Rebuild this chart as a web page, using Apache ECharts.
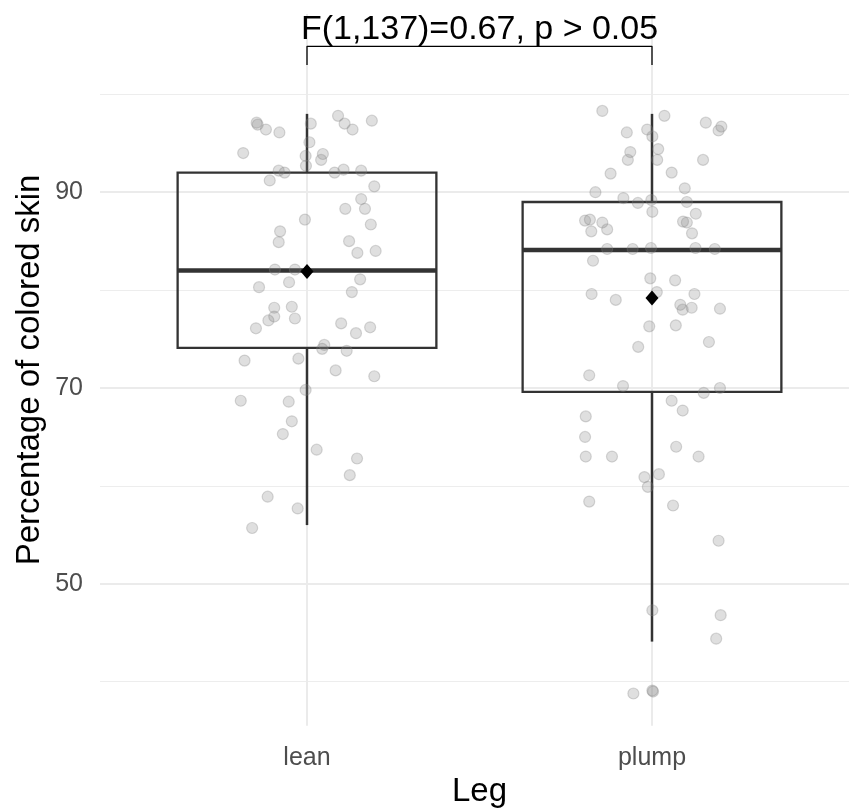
<!DOCTYPE html>
<html>
<head>
<meta charset="utf-8">
<script src="https://cdn.jsdelivr.net/npm/echarts@6/dist/echarts.min.js"></script>
<style>
html, body { margin: 0; padding: 0; background: #ffffff; }
#grafico { width: 849px; height: 811px; }
</style>
</head>
<body>
<div id="grafico"></div>
<script>
// Dados
const categories = ['lean', 'plump'];
const yTickLabels = [50, 70, 90];
const yMinorTicks = [40, 60, 80, 100];

// box statistics per group: lower whisker, Q1, median, Q3, upper whisker
const boxLow = [56.0, 44.1];
const boxQ1 = [74.1, 69.6];
const boxMedian = [82.0, 84.1];
const boxQ3 = [92.0, 89.0];
const boxHigh = [98.0, 98.0];
const groupMeans = [81.9, 79.2];

// jittered observations (x = group position + jitter)
const leanX = [0.854, 0.857, 0.881, 0.920, 0.815, 1.011, 1.090, 1.109, 1.132, 1.188,
    1.007, 0.996, 1.046, 1.041, 0.997, 0.918, 0.935, 0.892, 1.080, 1.106,
    1.157, 1.195, 1.157, 1.111, 1.168, 1.185, 0.994, 0.922, 0.918, 1.122,
    1.146, 1.199, 0.907, 0.965, 0.861, 0.948, 1.154, 1.130, 0.905, 0.956,
    0.905, 0.888, 0.965, 0.852, 1.099, 1.142, 1.183, 1.050, 1.044, 1.115,
    0.819, 0.975, 1.083, 1.195, 0.996, 0.808, 0.947, 0.956, 0.930, 1.028,
    1.145, 1.124, 0.886, 0.973, 0.841];
const leanY = [97.1, 96.9, 96.4, 96.1, 94.0, 97.0, 97.8, 97.0, 96.4, 97.3,
    95.1, 93.7, 93.9, 93.3, 92.7, 92.2, 92.0, 91.2, 92.0, 92.3,
    92.2, 90.6, 89.3, 88.3, 88.3, 86.7, 87.2, 86.0, 84.9, 85.0,
    83.8, 84.0, 82.1, 82.1, 80.3, 80.8, 81.1, 79.8, 78.2, 78.3,
    77.3, 76.9, 77.1, 76.1, 76.6, 75.6, 76.2, 74.4, 74.0, 73.8,
    72.8, 73.0, 71.8, 71.2, 69.8, 68.7, 68.6, 66.6, 65.3, 63.7,
    62.8, 61.1, 58.9, 57.7, 55.7];
const plumpX = [1.856, 2.036, 2.156, 2.201, 2.193, 1.927, 1.986, 2.001, 1.937, 1.930,
    2.018, 2.015, 2.148, 1.880, 2.057, 1.836, 1.917, 1.959, 1.998, 2.095,
    2.101, 2.001, 2.127, 1.806, 1.820, 1.856, 1.824, 1.870, 2.090, 2.101,
    2.116, 1.870, 1.944, 1.997, 2.126, 2.182, 1.829, 1.995, 2.067, 1.825,
    1.895, 2.014, 2.123, 2.082, 2.089, 2.115, 2.197, 1.992, 2.069, 2.165,
    1.960, 1.818, 1.916, 2.150, 2.197, 2.057, 2.089, 1.808, 1.806, 2.070,
    1.808, 1.884, 2.135, 1.978, 2.020, 1.988, 1.818, 2.061, 2.193, 2.001,
    2.199, 2.186, 1.946, 2.001, 2.003];
const plumpY = [98.3, 97.8, 97.1, 96.7, 96.3, 96.1, 96.4, 95.7, 94.1, 93.3,
    94.4, 93.3, 93.3, 91.9, 92.0, 90.0, 89.4, 88.9, 89.2, 90.4,
    89.0, 88.0, 87.8, 87.1, 87.2, 86.9, 86.0, 86.2, 87.0, 86.9,
    85.8, 84.2, 84.2, 84.3, 84.3, 84.2, 83.0, 81.2, 81.0, 79.6,
    79.0, 79.8, 79.6, 78.5, 78.0, 78.2, 78.1, 76.3, 76.4, 74.7,
    74.2, 71.3, 70.2, 69.5, 70.0, 68.7, 67.7, 67.1, 65.0, 64.0,
    63.0, 63.0, 63.0, 60.9, 61.2, 59.9, 58.4, 58.0, 54.4, 47.3,
    46.8, 44.4, 38.8, 39.1, 39.0];

// significance bracket
const bracketX = [1, 1, 2, 2];
const bracketY = [103.0, 104.9, 104.9, 103.0];
const annotationText = 'F(1,137)=0.67, p > 0.05';

const boxWidth = 0.75;
const fonte = "'Liberation Sans', Arial, sans-serif";

var chartDom = document.getElementById('grafico');
var myChart = echarts.init(chartDom, null, { renderer: 'canvas' });

function renderBox(params, api) {
    var x = api.value(0);
    var pLow = api.coord([x, api.value(1)]);
    var pQ1 = api.coord([x, api.value(2)]);
    var pMed = api.coord([x, api.value(3)]);
    var pQ3 = api.coord([x, api.value(4)]);
    var pHigh = api.coord([x, api.value(5)]);
    var half = api.size([boxWidth, 0])[0] / 2;
    var linha = { stroke: '#333333', lineWidth: 2.5, fill: null };
    return {
        type: 'group',
        children: [
            { type: 'line', shape: { x1: pLow[0], y1: pLow[1], x2: pQ1[0], y2: pQ1[1] }, style: linha },
            { type: 'line', shape: { x1: pQ3[0], y1: pQ3[1], x2: pHigh[0], y2: pHigh[1] }, style: linha },
            {
                type: 'rect',
                shape: { x: pQ1[0] - half, y: pQ3[1], width: half * 2, height: pQ1[1] - pQ3[1] },
                style: { fill: null, stroke: '#333333', lineWidth: 2.3 }
            },
            {
                type: 'line',
                shape: { x1: pMed[0] - half, y1: pMed[1], x2: pMed[0] + half, y2: pMed[1] },
                style: { stroke: '#333333', lineWidth: 4.6 }
            }
        ]
    };
}

var pointStyle = {
    color: 'rgba(128,128,128,0.25)',
    borderColor: 'rgba(128,128,128,0.3)',
    borderWidth: 1.2,
    opacity: 1
};

var option = {
    animation: false,
    backgroundColor: '#ffffff',
    textStyle: { fontFamily: fonte },
    grid: {
        left: 100,
        top: 14,
        width: 759,
        height: 711.8,
        containLabel: false,
        outerBoundsMode: 'none'
    },
    xAxis: {
        type: 'value',
        min: 0.4,
        max: 2.6,
        name: 'Leg',
        nameLocation: 'middle',
        nameGap: 50,
        nameMoveOverlap: false,
        nameTextStyle: { fontSize: 33, color: '#000000', fontFamily: fonte },
        axisLine: { show: false },
        axisTick: { show: false, customValues: [1, 2] },
        axisLabel: {
            customValues: [1, 2],
            formatter: function (v) { return categories[Math.round(v) - 1]; },
            fontSize: 25,
            color: '#4d4d4d',
            margin: 20,
            fontFamily: fonte
        },
        splitLine: { show: true, lineStyle: { color: '#ebebeb', width: 2 } }
    },
    yAxis: [
        {
            type: 'value',
            min: 35.5,
            max: 108.2,
            name: 'Percentage of colored skin',
            nameLocation: 'middle',
            nameGap: 54,
            nameMoveOverlap: false,
            nameTextStyle: { fontSize: 33, color: '#000000', fontFamily: fonte },
            axisLine: { show: false },
            axisTick: { show: false, customValues: yTickLabels },
            axisLabel: {
                customValues: yTickLabels,
                fontSize: 25,
                color: '#4d4d4d',
                margin: 17,
                fontFamily: fonte
            },
            splitLine: { show: true, lineStyle: { color: '#ebebeb', width: 2 } }
        },
        {
            type: 'value',
            min: 35.5,
            max: 108.2,
            axisLine: { show: false },
            axisTick: { show: false, customValues: yMinorTicks },
            axisLabel: { show: false, customValues: yMinorTicks },
            splitLine: { show: true, lineStyle: { color: '#ededed', width: 1.1 } }
        }
    ],
    series: [
        {
            name: 'box',
            type: 'custom',
            renderItem: renderBox,
            encode: { x: 0, y: [1, 2, 3, 4, 5] },
            z: 2,
            silent: true,
            data: categories.map(function (c, i) {
                return [i + 1, boxLow[i], boxQ1[i], boxMedian[i], boxQ3[i], boxHigh[i]];
            })
        },
        {
            name: 'lean',
            type: 'scatter',
            symbolSize: 11,
            z: 3,
            itemStyle: pointStyle,
            data: leanX.map(function (x, i) { return [x, leanY[i]]; })
        },
        {
            name: 'plump',
            type: 'scatter',
            symbolSize: 11,
            z: 3,
            itemStyle: pointStyle,
            data: plumpX.map(function (x, i) { return [x, plumpY[i]]; })
        },
        {
            name: 'mean',
            type: 'scatter',
            symbol: 'diamond',
            symbolSize: [13, 15],
            z: 4,
            itemStyle: { color: '#000000', opacity: 1 },
            data: groupMeans.map(function (m, i) { return [i + 1, m]; })
        },
        {
            name: 'bracket',
            type: 'line',
            symbol: 'none',
            z: 4,
            lineStyle: { color: '#000000', width: 1.3 },
            data: bracketX.map(function (x, i) { return [x, bracketY[i]]; })
        },
        {
            name: 'annotation',
            type: 'scatter',
            symbolSize: 0,
            z: 5,
            silent: true,
            itemStyle: { opacity: 1 },
            label: {
                show: true,
                position: 'top',
                distance: 0,
                formatter: annotationText,
                fontSize: 34,
                color: '#000000',
                fontFamily: fonte
            },
            data: [[(bracketX[0] + bracketX[3]) / 2, bracketY[1]]]
        }
    ]
};

option && myChart.setOption(option);
</script>
</body>
</html>
